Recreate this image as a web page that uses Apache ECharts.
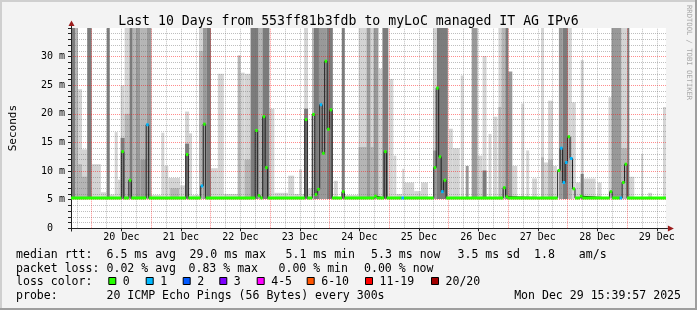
<!DOCTYPE html>
<html><head><meta charset="utf-8">
<script src="https://cdn.jsdelivr.net/npm/echarts@6/dist/echarts.min.js"></script>
<style>html,body{margin:0;padding:0;background:#f3f3f3;}#c{width:697px;height:310px;}</style>
</head><body><div id="c"></div>
<script>
// ---------- DATA (time in hours since 19 Dec 00:00) ----------
const startHour = 15 + 40 / 60;          // 19 Dec 15:40
const endHour = startHour + 240;          // 29 Dec 15:40
const yMax = 35;                          // ms
const dayLabels = ['20 Dec','21 Dec','22 Dec','23 Dec','24 Dec','25 Dec','26 Dec','27 Dec','28 Dec','29 Dec'];
const yLabelValues = [0, 5, 10, 15, 20, 25, 30];

// smoke bands: start hour, end hour, top (ms), ping density level (1 = sparse .. 4 = dense)
const smokeStart = [15.67,17.3,18.5,18.5,20.1,20.1,22.2,24.0,27.7,30.1,31.3,33.3,34.5,35.7,35.7,37.3,37.3,39.3,40.5,41.7,43.7,43.7,46.1,48.1,52.1,53.3,54.9,55.7,59.7,61.7,61.7,63.3,64.5,67.3,67.3,68.9,70.5,72.1,74.9,77.3,82.9,84.1,85.7,85.7,88.1,91.3,92.9,95.7,97.7,103.3,105.7,107.7,108.9,109.7,109.7,111.3,112.9,113.7,115.7,118.9,121.7,124.9,126.1,131.7,131.7,134.9,136.5,136.5,137.7,139.7,141.3,144.1,145.7,146.9,149.3,150.1,154.1,156.9,161.7,161.7,163.3,168.1,169.7,172.9,174.9,177.3,179.7,181.7,181.7,184.1,186.1,188.1,188.1,189.3,190.9,192.1,193.7,197.3,199.3,201.7,205.3,205.3,206.5,208.1,208.1,210.1,212.5,214.1,216.1,216.1,217.7,219.3,221.3,221.3,222.5,228.1,232.5,233.7,237.7,237.7,240.1,240.9,245.7,248.5,254.5];
const smokeEnd   = [17.3,18.5,20.1,20.1,22.2,22.2,24.0,27.7,29.9,31.3,33.3,34.5,35.7,37.3,37.3,39.3,39.3,40.5,41.7,43.7,46.1,46.1,48.1,52.1,53.3,54.9,59.7,59.3,61.7,63.3,63.3,64.5,67.3,68.9,68.9,70.5,72.1,74.9,77.3,82.9,84.1,85.7,88.1,88.1,91.3,92.9,95.7,97.7,103.3,105.7,107.7,108.9,109.7,111.3,111.3,112.9,113.7,115.7,118.9,121.3,123.3,126.1,131.7,134.9,134.9,136.5,137.7,137.7,139.7,141.3,143.7,145.7,146.9,149.3,150.1,154.1,156.9,159.7,163.3,163.3,167.7,169.7,172.5,174.1,176.1,179.7,181.7,183.3,183.3,185.3,187.7,189.3,189.3,190.9,192.1,193.7,195.7,198.5,200.5,203.7,206.5,206.5,208.1,210.1,210.1,211.7,214.1,216.1,217.7,217.7,219.3,221.3,222.5,222.5,227.3,229.7,233.7,237.7,240.1,240.1,240.9,242.9,246.5,250.1,255.67];
const smokeTop   = [36,36,24.3,11.2,13.8,9.0,36,11.2,6.3,36,5.9,16.8,8.5,25.0,15.8,36,20,36,36,36,36,12,36,5.8,16.7,10.9,8.8,7.0,7.5,20.4,14.8,16.6,5.8,36,31,36,36,10.5,27.0,6.0,30.2,27.2,27.0,12.0,36,36,36,20.9,6.2,9.2,6.0,10.3,6.0,36,20.9,7.0,36,36,36,36,8.3,36,5.8,36,14.2,36,36,14.2,36,27.9,36,26.1,12.7,6.0,10.4,8.0,6.5,8.0,36,13.6,36,17.4,14.0,26.7,10.9,36,12.7,30.1,10.1,16.5,19.5,36,21.2,36,36,27.4,10.9,21.8,13.6,8.7,36,12.4,11.5,22.3,12,10.9,36,36,36,16,22.0,8.0,29.4,9.5,8.7,8.0,22.9,36,36,14,36,9.0,13.0,6.2,21.2];
const smokeDensity=[4,2,1,2,1,2,4,1,1,4,1,1,1,1,4,1,2,4,2,3,2,3,3,1,1,1,1,2,1,1,4,1,1,1,2,3,4,1,1,1,2,1,1,2,4,2,4,1,1,1,1,1,1,1,4,1,2,4,3,4,1,4,1,1,2,3,1,2,3,1,4,1,1,1,1,1,1,1,1,3,4,1,1,1,3,3,1,1,4,1,1,1,2,2,4,3,1,1,1,1,1,2,1,1,2,1,3,4,1,2,1,1,1,4,1,1,1,3,1,2,4,1,1,1,1];

// median rtt (ms) per hour where it differs from the baseline, with lost pings of 20
const medianBase = 5.3;
const medianHour  = [36,39,46,62,68,69,90,91,93,94,110,113,114,115,116,117,118,119,120,125,138,142,149,162,163,164,165,166,190,191,212,213,214,215,216,217,218,221,233,237,238,239];
const medianValue = [13.4,8.4,18.1,12.9,7.4,18.2,17.1,5.7,19.5,10.6,19.0,19.9,5.9,6.8,21.6,13.1,29.2,17.3,20.7,6.4,5.6,13.4,5.3,10.6,24.5,12.5,6.4,8.4,7.1,5.5,10.1,14.0,8.0,11.5,16.0,12.2,6.9,5.6,6.4,5.3,8.0,11.2];
const medianLoss  = [0,0,1,0,1,0,0,0,0,0,0,0,0,0,1,0,0,0,0,0,0,0,1,0,0,0,1,0,0,0,0,1,1,1,0,1,0,0,0,1,0,0];

const lossLabels = ['0','1','2','3','4-5','6-10','11-19','20/20'];
const lossColors = ['#26ff00','#00b8ff','#0059ff','#7e00ff','#ff00ff','#ff5500','#ff0000','#a10000'];

const statTexts = ['median rtt:','6.5 ms avg','29.0 ms max','5.1 ms min','5.3 ms now','3.5 ms sd','1.8','am/s'];
const lossTexts = ['packet loss:','0.02 % avg','0.83 % max','0.00 % min','0.00 % now'];
const probeText = '20 ICMP Echo Pings (56 Bytes) every 300s';
const dateText = 'Mon Dec 29 15:39:57 2025';
const titleText = 'Last 10 Days from 553ff81b3fdb to myLoC managed IT AG IPv6';

// ---------- BUILD ----------
const FONT = '"DejaVu Sans Mono", monospace';
const smokeColors = ['#ffffff','#d4d4d4','#b5b5b5','#999999','#7c7c7c'];
function lossBucket(n){ if(n<=3) return n; if(n<=5) return 4; if(n<=10) return 5; if(n<20) return 6; return 7; }

const smokeData = smokeStart.map((s,i)=>[s, smokeEnd[i], smokeTop[i], smokeDensity[i]])
  .sort((a,b)=>a[3]-b[3]);

const medPts = [[startHour, medianBase, 0]];
medianHour.forEach((h,i)=>{
  medPts.push([h, medianValue[i], medianLoss[i]]);
  if (medianHour[i+1] !== h+1) medPts.push([h+1, medianBase, 0]);
});
medPts.push([endHour, medianBase, 0]);
const medSegs = [];
for (let i=0;i<medPts.length-1;i++) medSegs.push([medPts[i][0], medPts[i+1][0], medPts[i][1], lossBucket(medPts[i][2])]);

const noonHours = dayLabels.map((_,i)=>36+24*i);
const vLines = [];
for (let h=18; h<endHour; h+=6){
  const major = h%24===0;
  vLines.push({xAxis:h, lineStyle:{color: major?'rgba(255,0,0,0.45)':'rgba(110,110,110,0.45)', type:[1,1], width:1}});
}
const hColors = yLabelValues.map((v,i)=> i===0 ? 'rgba(0,0,0,0)' : 'rgba(255,0,0,0.45)');
hColors.push('rgba(0,0,0,0)');

const chart = echarts.init(document.getElementById('c'), null, {width:697, height:310});
const option = {
  animation:false,
  backgroundColor:'#f3f3f3',
  title:{text:titleText, left:'center', top:10, textStyle:{fontFamily:FONT, fontSize:13.2, fontWeight:'normal', color:'#000'}},
  grid:{left:65.9, right:31.1, top:28, bottom:81.7, show:true, backgroundColor:'#ffffff', borderWidth:0},
  xAxis:{type:'value', min:startHour, max:endHour,
    axisLine:{show:true, lineStyle:{color:'#222', width:1}},
    axisTick:{show:true, customValues:noonHours, length:3, lineStyle:{color:'#222'}},
    axisLabel:{customValues:noonHours, margin:4, fontFamily:FONT, fontSize:10, color:'#000',
      formatter:v=>dayLabels[Math.round((v-36)/24)]},
    splitLine:{show:false}},
  yAxis:{type:'value', min:0, max:yMax, interval:5, z:3,
    name:'Seconds', nameLocation:'middle', nameGap:52, nameRotate:90,
    nameTextStyle:{fontFamily:FONT, fontSize:11, color:'#000'},
    axisLine:{show:true, lineStyle:{color:'#222', width:1}},
    axisTick:{show:true, length:3, lineStyle:{color:'#222'}},
    minorTick:{show:true, splitNumber:5, length:3, lineStyle:{color:'#222'}},
    axisLabel:{customValues:yLabelValues, margin:6, fontFamily:FONT, fontSize:10, color:'#000',
      formatter:v=> v===0 ? '{z|0}' : v+' m', rich:{z:{fontFamily:FONT, fontSize:10, color:'#000', padding:[0,12,0,0]}}},
    splitLine:{show:true, lineStyle:{color:hColors, type:[1,1], width:1}},
    minorSplitLine:{show:true, lineStyle:{color:'rgba(110,110,110,0.45)', type:[1,1], width:1}}},
  series:[
    {type:'custom', name:'smoke', z:2, silent:true, data:smokeData, encode:{x:[0,1], y:2},
      renderItem(params, api){
        const top = Math.min(api.value(2), yMax);
        const p0 = api.coord([api.value(0), top]);
        const p1 = api.coord([api.value(1), 5.1]);
        return {type:'rect', shape:{x:p0[0], y:p0[1], width:p1[0]-p0[0], height:p1[1]-p0[1]},
          style:{fill:smokeColors[api.value(3)]}};
      }},
    {type:'line', name:'median', z:3, step:'end', symbol:'none', silent:true, data:medPts.map(p=>[p[0],p[1]]),
      lineStyle:{color:'#1e1e1e', width:1},
      markLine:{silent:true, symbol:['none','none'], label:{show:false}, animation:false, data:vLines}},
    {type:'custom', name:'median loss', z:5, silent:true, data:medSegs, encode:{x:[0,1], y:2},
      renderItem(params, api){
        const p0 = api.coord([api.value(0), api.value(2)]);
        const p1 = api.coord([api.value(1), api.value(2)]);
        return {type:'rect', shape:{x:p0[0], y:p0[1]-1.5, width:p1[0]-p0[0], height:3},
          style:{fill:lossColors[api.value(3)]}};
      }}
  ]
};
chart.setOption(option);

// ---------- decorations: arrows, frame, legend text ----------
const pO = chart.convertToPixel({gridIndex:0}, [startHour, 0]);
const pE = chart.convertToPixel({gridIndex:0}, [endHour, 0]);
const pT = chart.convertToPixel({gridIndex:0}, [startHour, yMax]);
const ax = Math.round(pO[0])+0.5, ay = Math.round(pO[1])+0.5;
const g = [];
g.push({type:'line', shape:{x1:ax-3, y1:ay, x2:pE[0]+2, y2:ay}, style:{stroke:'#222', lineWidth:1}});
g.push({type:'line', shape:{x1:ax, y1:ay+3, x2:ax, y2:pT[1]-2}, style:{stroke:'#222', lineWidth:1}});
g.push({type:'polygon', shape:{points:[[pE[0]+2,ay-3],[pE[0]+8,ay],[pE[0]+2,ay+3]]}, style:{fill:'#9b1c1c'}});
g.push({type:'polygon', shape:{points:[[ax-3,pT[1]-2],[ax,pT[1]-7.5],[ax+3,pT[1]-2]]}, style:{fill:'#9b1c1c'}});
// frame
g.push({type:'rect', shape:{x:0,y:0,width:697,height:2}, style:{fill:'#cfcfcf'}});
g.push({type:'rect', shape:{x:0,y:0,width:2,height:310}, style:{fill:'#cfcfcf'}});
g.push({type:'rect', shape:{x:0,y:308,width:697,height:2}, style:{fill:'#9e9e9e'}});
g.push({type:'rect', shape:{x:695,y:0,width:2,height:310}, style:{fill:'#9e9e9e'}});
// watermark
g.push({type:'text', x:689, y:5, rotation:-Math.PI/2, style:{text:'RRDTOOL / TOBI OETIKER', font:'7.2px '+FONT, fill:'#a8a8a8', textAlign:'left', textVerticalAlign:'middle'}});
// legend lines
const LF = '11.55px '+FONT;
const lineY = [254.8, 268.6, 282.4, 296.1];
const statX = [16, 106.5, 189.5, 285.5, 371, 457.5, 534, 578.8];
statTexts.forEach((t,i)=>g.push({type:'text', x:statX[i], y:lineY[0], style:{text:t, font:LF, fill:'#000', textVerticalAlign:'middle'}}));
const lossX = [16, 106.5, 188.5, 278.5, 364];
lossTexts.forEach((t,i)=>g.push({type:'text', x:lossX[i], y:lineY[1], style:{text:t, font:LF, fill:'#000', textVerticalAlign:'middle'}}));
g.push({type:'text', x:16, y:lineY[2], style:{text:'loss color:', font:LF, fill:'#000', textVerticalAlign:'middle'}});
const boxX = [108.3, 145.7, 182.7, 219.3, 256.7, 306.7, 365, 431];
lossLabels.forEach((t,i)=>{
  g.push({type:'rect', shape:{x:boxX[i]+0.5, y:277.5, width:7, height:7}, style:{fill:lossColors[i], stroke:'#000', lineWidth:1}});
  g.push({type:'text', x:boxX[i]+14.5, y:lineY[2], style:{text:t, font:LF, fill:'#000', textVerticalAlign:'middle'}});
});
g.push({type:'text', x:16, y:lineY[3], style:{text:'probe:', font:LF, fill:'#000', textVerticalAlign:'middle'}});
g.push({type:'text', x:106.5, y:lineY[3], style:{text:probeText, font:LF, fill:'#000', textVerticalAlign:'middle'}});
g.push({type:'text', x:681, y:lineY[3], style:{text:dateText, font:LF, fill:'#000', textAlign:'right', textVerticalAlign:'middle'}});
chart.setOption({graphic:{elements:g}});
</script></body></html>
